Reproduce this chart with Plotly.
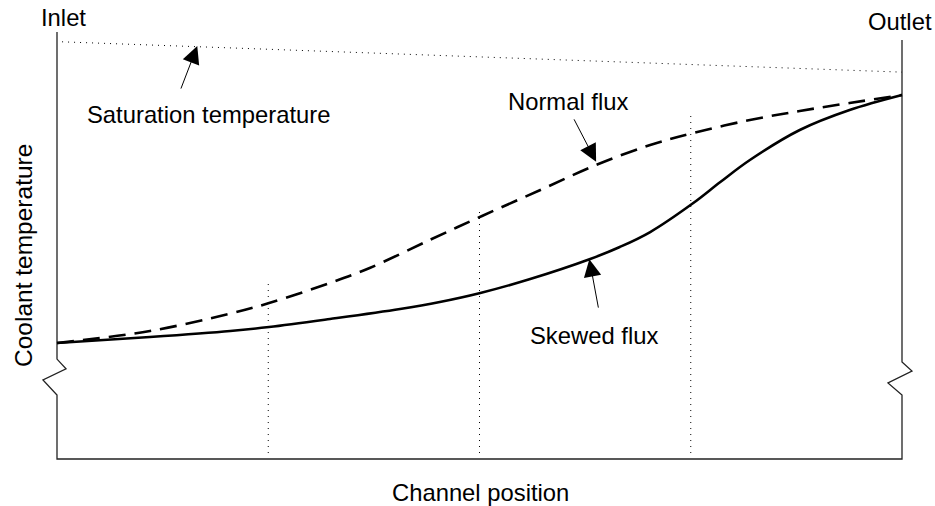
import plotly.graph_objects as go

# ---------------- data (channel position 0 = inlet, 1 = outlet; temperature in arbitrary units)
pos_skewed = [0, 0.110, 0.205, 0.251, 0.323, 0.406, 0.453, 0.501, 0.560, 0.631, 0.666, 0.702,
              0.753, 0.785, 0.820, 0.879, 0.938, 1.0]
temp_skewed = [27.17, 28.57, 29.98, 30.91, 32.79, 35.13, 36.77, 38.88, 42.15, 46.84, 49.65, 53.16,
               59.95, 64.87, 70.02, 77.05, 81.73, 85.25]

pos_normal = [0, 0.110, 0.208, 0.251, 0.323, 0.370, 0.441, 0.503, 0.572, 0.638, 0.702, 0.753, 0.820, 0.879, 0.938, 1.0]
temp_normal = [27.17, 29.98, 34.19, 36.53, 41.22, 44.73, 51.29, 56.91, 63.00, 68.85, 73.54, 76.35, 79.39, 81.50, 83.37, 85.25]

sat_pos = [0.006, 1.0]
sat_temp = [97.7, 90.6]

marker_pos = [0.25, 0.5, 0.75]
marker_top = [41.2, 58.3, 80.6]
marker_bottom = 1.4

# axis frame with broken-scale zigzags
frame_pos = [0, 0, 0.0107, -0.0166, 0, 0, 1.0, 1.0, 0.9834, 1.0118, 1.0, 1.0]
frame_temp = [100, 23.4, 21.1, 18.5, 15.0, 0, 0, 15.0, 17.8, 20.6, 22.7, 98.1]

# ---------------- figure
W, H = 935, 506
fig = go.Figure()

fig.add_trace(go.Scatter(x=frame_pos, y=frame_temp, mode="lines",
                         line=dict(color="#222222", width=1.3), hoverinfo="skip"))

fig.add_trace(go.Scatter(x=sat_pos, y=sat_temp, mode="lines",
                         line=dict(color="#000000", width=1, dash="1px,5px"), hoverinfo="skip"))

for p, t in zip(marker_pos, marker_top):
    fig.add_trace(go.Scatter(x=[p, p], y=[marker_bottom, t], mode="lines",
                             line=dict(color="#000000", width=1, dash="1px,5px"), hoverinfo="skip"))

fig.add_trace(go.Scatter(x=pos_normal, y=temp_normal, mode="lines",
                         line=dict(color="#000000", width=2.6, dash="17px,9px", shape="spline", smoothing=1),
                         hoverinfo="skip"))
fig.add_trace(go.Scatter(x=pos_skewed, y=temp_skewed, mode="lines",
                         line=dict(color="#000000", width=2.6, shape="spline", smoothing=1),
                         hoverinfo="skip"))

FONT_FAMILY = "Liberation Sans, Arial, sans-serif"

def arrow(tip, tail):
    fig.add_annotation(x=tip[0], y=tip[1], ax=tail[0], ay=tail[1], xref="x", yref="y",
                       axref="x", ayref="y", text="", showarrow=True, arrowhead=2,
                       arrowsize=3.5, arrowwidth=1, arrowcolor="#000000", standoff=0)

arrow((0.166, 96.7), (0.146, 86.4))
arrow((0.638, 69.6), (0.611, 79.9))
arrow((0.630, 46.8), (0.641, 35.1))

def label(text, px, py, angle=0, size=23.8):
    fig.add_annotation(x=px / W, y=1 - py / H, xref="paper", yref="paper", text=text,
                       showarrow=False, xanchor="center", yanchor="middle",
                       font=dict(family=FONT_FAMILY, size=size, color="#000000"),
                       textangle=angle)

label("Saturation temperature", 208, 114)
label("Normal flux", 568, 101.5)
label("Skewed flux", 594, 335)
label("Inlet", 63, 17.5)
label("Outlet", 900, 21.5)
label("Channel position", 481, 492)
label("Coolant temperature", 24, 256, angle=-90, size=24.5)

fig.update_layout(
    width=W, height=H, margin=dict(l=0, r=0, t=0, b=0),
    paper_bgcolor="white", plot_bgcolor="white", showlegend=False,
    xaxis=dict(visible=False, range=[-57 / 845, 878 / 845]),
    yaxis=dict(visible=False, range=[-47 / 4.27, 459 / 4.27]),
)

fig.write_html("out.html", config={"displayModeBar": False, "staticPlot": True},
               post_script="document.body.style.margin='0';document.body.style.overflow='hidden';")
